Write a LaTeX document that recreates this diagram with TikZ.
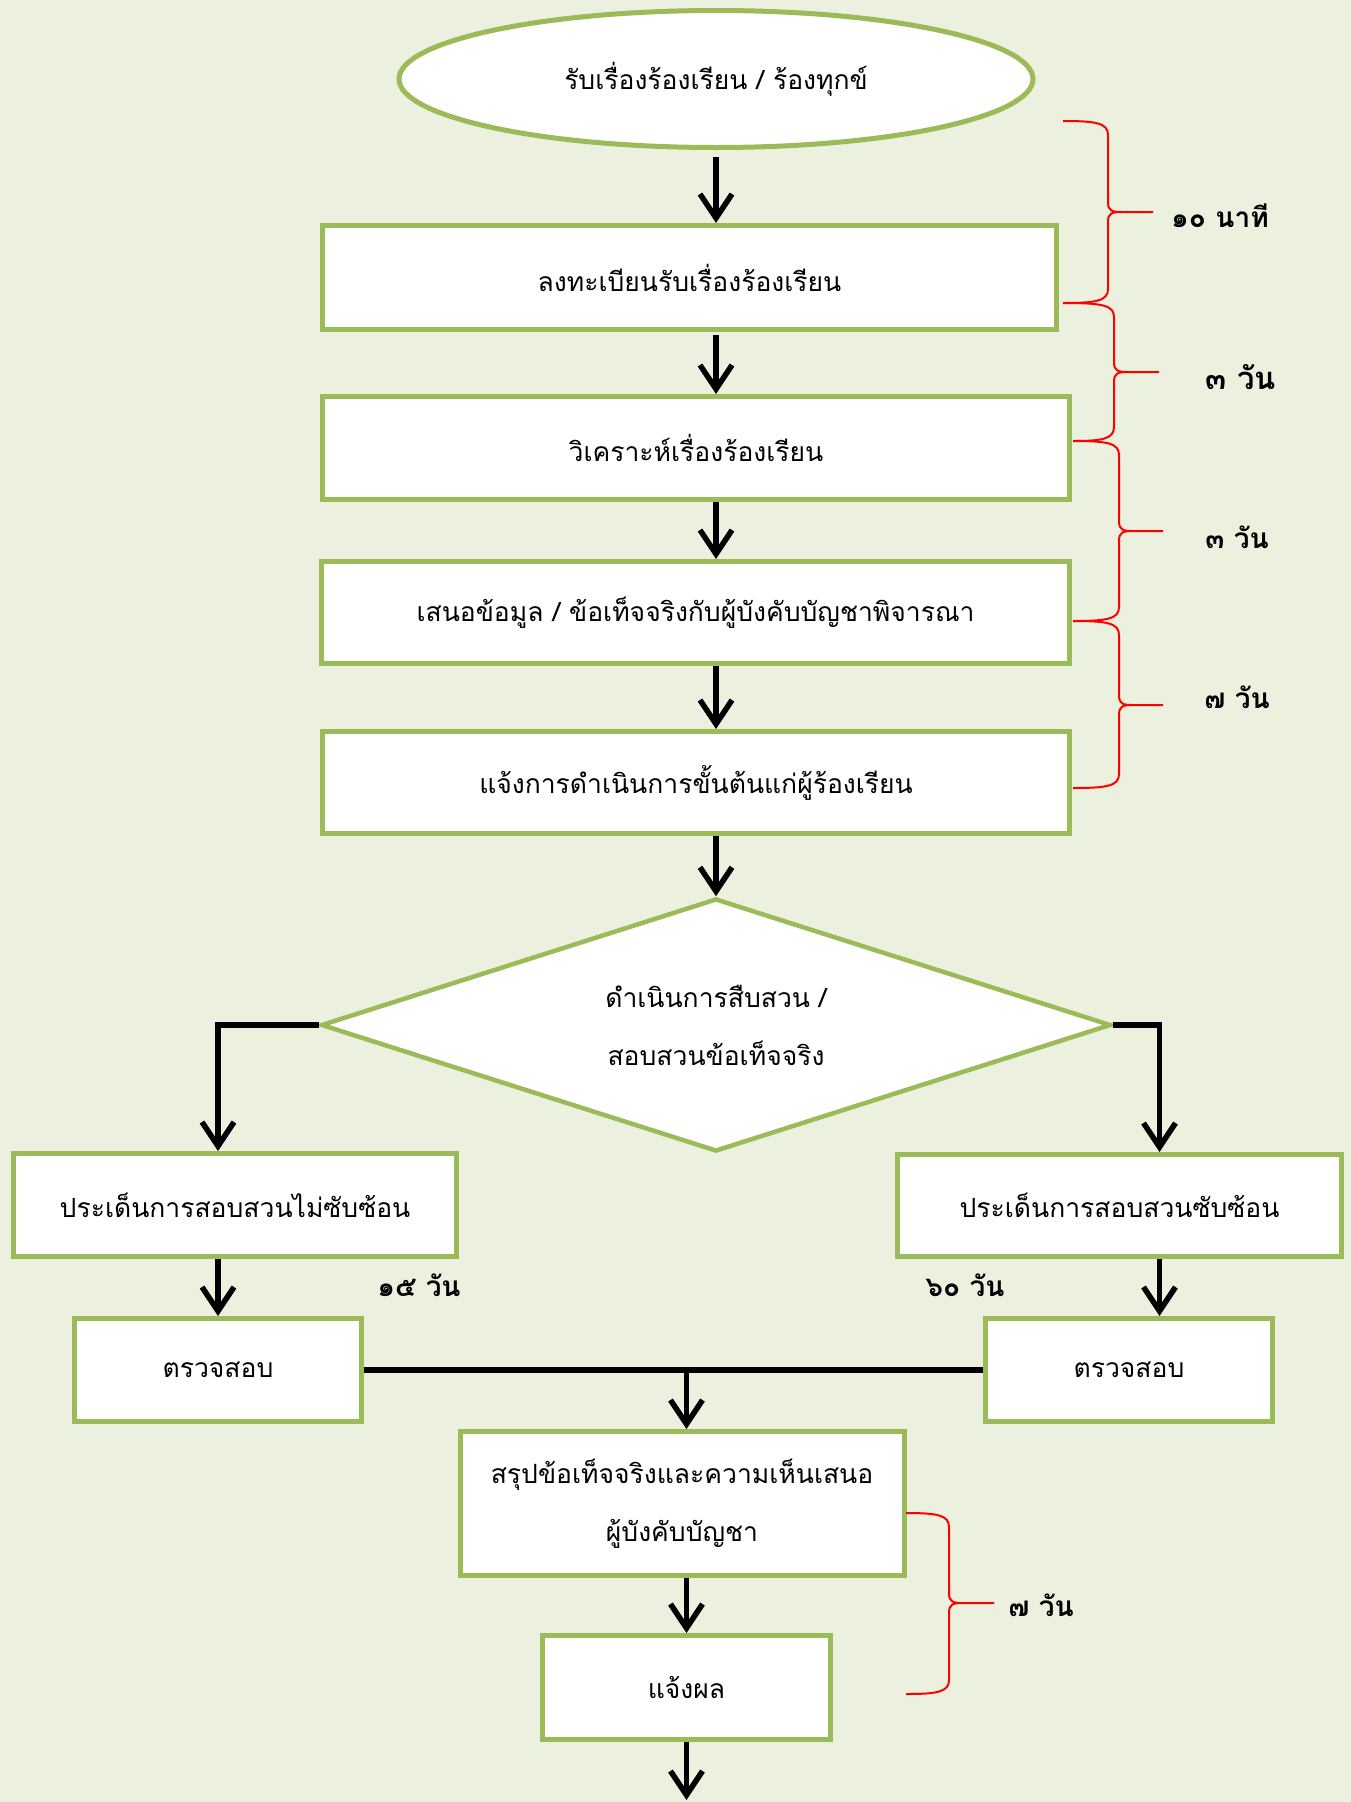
\documentclass[tikz,border=0pt]{standalone}
\usepackage{fontspec}
\setmainfont{Loma}[Script=Thai]
\usetikzlibrary{shapes.geometric,arrows.meta,calc}
\definecolor{bgc}{RGB}{235,241,222}
\definecolor{olv}{RGB}{155,187,89}
\newcommand\tbrace[7]{%
  \draw[bracepath] (#1,#2) .. controls (#5-12,#2) and (#5,#2+2) .. (#5,#2+14)
    -- (#5,#7-10) .. controls (#5,#7-1) and (#5+4,#7) .. (#5+14,#7) -- (#6,#7)
    -- (#5+14,#7) .. controls (#5+4,#7) and (#5,#7+1) .. (#5,#7+10)
    -- (#5,#4-14) .. controls (#5,#4-2) and (#5-12,#4) .. (#3,#4);}
\begin{document}
\begin{tikzpicture}[x=1pt,y=-1pt,
  flowbox/.style={draw=olv,fill=white,line width=5pt,rectangle,inner sep=0pt,
    font=\fontsize{26.5}{58}\selectfont,align=center},
  flowell/.style={flowbox,ellipse},
  flowdia/.style={flowbox,diamond,shape aspect=3.1,line width=4.5pt},
  conn/.style={line width=5.5pt},
  arr/.style={conn,-{Straight Barb[length=24pt,width=32pt,line width=5.5pt]}},
  bracepath/.style={draw=red,line width=2pt},
  lab/.style={font=\fontsize{28}{32}\selectfont\bfseries,inner sep=0pt}]
\useasboundingbox (0,0) rectangle (1351,1802);
\fill[bgc] (0,0) rectangle (1351,1802);

\node[flowell,minimum width=634pt,minimum height=137pt] (ell) at (716,79) {รับเรื่องร้องเรียน / ร้องทุกข์};
\node[flowbox,minimum width=734pt,minimum height=104pt] (b1) at (689.5,277.5) {ลงทะเบียนรับเรื่องร้องเรียน};
\node[flowbox,minimum width=747pt,minimum height=103pt] (b2) at (696,448) {วิเคราะห์เรื่องร้องเรียน};
\node[flowbox,minimum width=748pt,minimum height=102pt] (b3) at (695.5,612.5) {เสนอข้อมูล / ข้อเท็จจริงกับผู้บังคับบัญชาพิจารณา};
\node[flowbox,minimum width=747pt,minimum height=102pt] (b4) at (696,782.5) {แจ้งการดำเนินการขั้นต้นแก่ผู้ร้องเรียน};
\node[flowdia,minimum width=790pt,minimum height=253pt] (dia) at (716,1025) {ดำเนินการสืบสวน /\\สอบสวนข้อเท็จจริง};
\node[flowbox,minimum width=443pt,minimum height=103pt] (lbox) at (235,1205) {ประเด็นการสอบสวนไม่ซับซ้อน};
\node[flowbox,minimum width=444pt,minimum height=102pt] (rbox) at (1119.5,1205.5) {ประเด็นการสอบสวนซับซ้อน};
\node[flowbox,minimum width=287pt,minimum height=103pt] (lchk) at (218,1370) {ตรวจสอบ};
\node[flowbox,minimum width=287pt,minimum height=103pt] (rchk) at (1129,1370) {ตรวจสอบ};
\node[flowbox,minimum width=444pt,minimum height=144pt] (sum) at (682,1503.5) {สรุปข้อเท็จจริงและความเห็นเสนอ\\ผู้บังคับบัญชา};
\node[flowbox,minimum width=288pt,minimum height=104pt] (res) at (686.5,1687.5) {แจ้งผล};
\coordinate (fin) at (690,1800);

\draw[arr,shorten <=7pt] (ell.south) -- (ell.south |- b1.north);
\draw[arr,shorten <=3pt] (b1.south -| ell.south) -- (ell.south |- b2.north);
\draw[arr] (b2.south -| ell.south) -- (ell.south |- b3.north);
\draw[arr] (b3.south -| ell.south) -- (ell.south |- b4.north);
\draw[arr] (b4.south -| ell.south) -- (dia.north);
\draw[arr] (dia.west) -| (lbox.north -| lchk);
\draw[arr] (dia.east) -| ([xshift=40pt]rbox.north);
\draw[arr] (lbox.south -| lchk) -- (lchk.north);
\draw[arr] ([xshift=40pt]rbox.south) -- ([xshift=40pt]rbox.south |- rchk.north);
\draw[conn] (lchk.east) -- (rchk.west);
\draw[arr] (lchk.east -| res) -- (sum.north -| res);
\draw[arr] (sum.south -| res) -- (res.north);
\draw[arr] (res.south) -- (res.south |- fin);

\tbrace{1063}{121}{1063}{303}{1108}{1153}{212}
\tbrace{1063}{303}{1073}{441}{1114}{1159}{372}
\tbrace{1073}{441}{1073}{621}{1119}{1163}{531}
\tbrace{1073}{621}{1073}{788}{1119}{1163}{705}
\tbrace{906}{1513}{906}{1694}{949}{994}{1603}

\node[lab] (l1) at (1220,216) {๑๐ นาที};
\node[lab,font=\fontsize{31}{34}\selectfont\bfseries] (l2) at (1241,377) {๓ วัน};
\node[lab] (l3) at (1237,537) {๓ วัน};
\node[lab] (l4) at (1237,697) {๗ วัน};
\node[lab] (l5) at (419,1285) {๑๕ วัน};
\node[lab] (l6) at (965,1285) {๖๐ วัน};
\node[lab] (l7) at (1041,1605) {๗ วัน};
\end{tikzpicture}
\end{document}
